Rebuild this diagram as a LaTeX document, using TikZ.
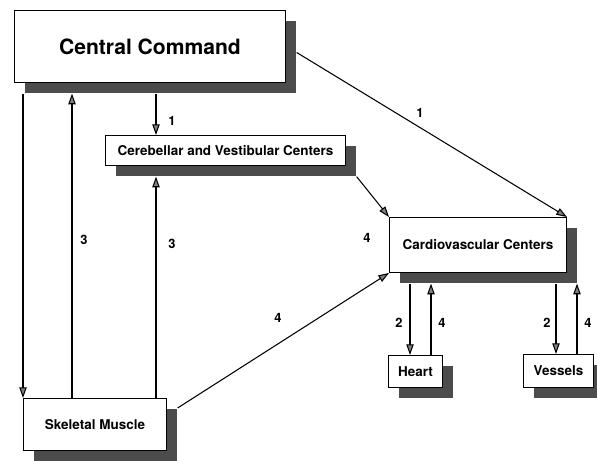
\documentclass[tikz,border=0pt]{standalone}
\usepackage{fontspec}
\setmainfont{TeX Gyre Heros}
\usetikzlibrary{arrows.meta, shadows}

\begin{document}
\begin{tikzpicture}[
          x=0.03cm, y=-0.03cm,
          box/.style={
              draw=black,
              fill=white,
              line width=0.8pt,
              anchor=north west,
              inner sep=0pt,
              font=\bfseries\fontsize{11.5}{13}\selectfont,
              drop shadow={shadow xshift=0.32cm, shadow yshift=-0.32cm,
                  fill=black!70, opacity=1}
            },
          lbl/.style={font=\bfseries\fontsize{11}{13}\selectfont, inner sep=0pt},
          arr/.style={-{Triangle[length=0.32cm, width=0.22cm, fill=black!50]}, line width=0.9pt}
        ]
        \useasboundingbox (0,0) rectangle (597,461);
        \node[box, minimum width=8.13cm, minimum height=2.16cm,
              font=\bfseries\fontsize{18}{20}\selectfont] (cc) at (14,10) {Central Command};
        \node[box, minimum width=7.2cm, minimum height=0.9cm] (cbv) at (105,135) {Cerebellar and Vestibular Centers};
        \node[box, minimum width=5.31cm, minimum height=1.65cm] (cvc) at (389,217) {Cardiovascular Centers};
        \node[box, minimum width=4.29cm, minimum height=1.56cm] (sm) at (23,398) {Skeletal Muscle};
        \node[box, minimum width=1.62cm, minimum height=0.96cm] (heart) at (388,355) {Heart};
        \node[box, minimum width=2.1cm, minimum height=0.99cm] (ves) at (523,354) {Vessels};

        \coordinate (ccbot) at ([yshift=-0.32cm]cc.south);
        \coordinate (cbvbot) at ([yshift=-0.32cm]cbv.south);
        \coordinate (cvcbot) at ([yshift=-0.32cm]cvc.south);
        \coordinate (xa) at (72,0);
        \coordinate (xb) at (156,0);
        \coordinate (xh1) at (410,0);
        \coordinate (xh2) at (431,0);
        \coordinate (xv1) at (556,0);
        \coordinate (xv2) at (577,0);

        \draw[arr] (sm.north west |- ccbot) -- (sm.north west);
        \draw[arr] (xa |- sm.north) -- (xa |- ccbot);
        \draw[arr] (xb |- ccbot) -- (xb |- cbv.north);
        \draw[arr] (xb |- sm.north) -- (xb |- cbvbot);
        \draw[arr] ([xshift=0.32cm, yshift=-0.32cm]cbv.south east) -- (cvc.north west);
        \draw[arr] ([xshift=0.32cm, yshift=-0.18cm]cc.east) -- (cvc.north east);
        \draw[arr] ([xshift=0.32cm, yshift=-0.3cm]sm.north east) -- (cvc.south west);
        \draw[arr] (xh1 |- cvcbot) -- (xh1 |- heart.north);
        \draw[arr] (xh2 |- heart.north) -- (xh2 |- cvcbot);
        \draw[arr] (xv1 |- cvcbot) -- (xv1 |- ves.north);
        \draw[arr] (xv2 |- ves.north) -- (xv2 |- cvcbot);

        \node[lbl] (l1) at (172,121) {1};
        \node[lbl] (l2) at (420,113) {1};
        \node[lbl] (l3) at (84,240) {3};
        \node[lbl] (l4) at (172,244) {3};
        \node[lbl] (l5) at (367,238) {4};
        \node[lbl] (l6) at (278,318) {4};
        \node[lbl] (l7) at (399,323) {2};
        \node[lbl] (l8) at (442,323) {4};
        \node[lbl] (l9) at (547,323) {2};
        \node[lbl] (l10) at (588,323) {4};
      \end{tikzpicture}
\end{document}
